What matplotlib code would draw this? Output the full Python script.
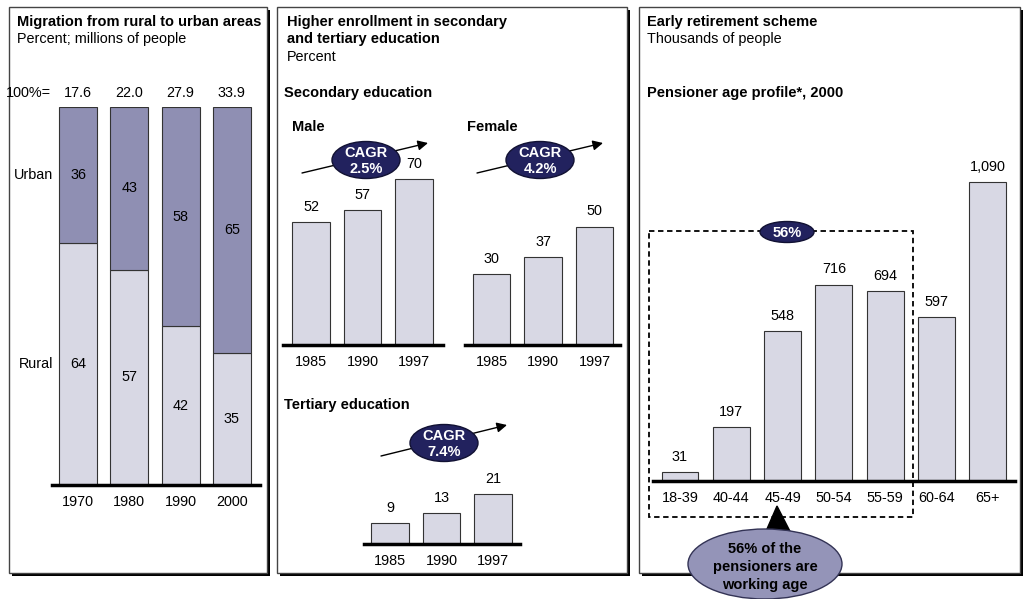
import numpy as np
import matplotlib.pyplot as plt
from matplotlib.patches import Rectangle, Ellipse, Polygon

plt.rcParams['font.family'] = ['Liberation Sans', 'DejaVu Sans']
plt.rcParams['font.size'] = 10.4

# datos
anios_mig = ['1970', '1980', '1990', '2000']
totales_mig = ['17.6', '22.0', '27.9', '33.9']
rural = [64, 57, 42, 35]
urbano = [36, 43, 58, 65]

anios_edu = ['1985', '1990', '1997']
sec_hombres = [52, 57, 70]
sec_mujeres = [30, 37, 50]
terciaria = [9, 13, 21]

edades = ['18-39', '40-44', '45-49', '50-54', '55-59', '60-64', '65+']
pensionistas = [31, 197, 548, 716, 694, 597, 1090]
etiquetas_pens = ['31', '197', '548', '716', '694', '597', '1,090']

c_claro = '#d8d8e4'
c_urbano = '#8f8fb3'
c_navy = '#22225e'
c_borde = '#444444'
fs_negrita = 10.5

W, H = 1023, 599
fig = plt.figure(figsize=(W / 100, H / 100), dpi=100)

# capa de fondo en pixeles
fondo = fig.add_axes([0, 0, 1, 1], zorder=0)
fondo.set_xlim(0, W)
fondo.set_ylim(H, 0)
fondo.axis('off')

def panel(x0, x1, y0=7, y1=573):
    fondo.add_patch(Rectangle((x0 + 3, y0 + 3), x1 - x0, y1 - y0, facecolor='black', edgecolor='none'))
    fondo.add_patch(Rectangle((x0, y0), x1 - x0, y1 - y0, facecolor='white', edgecolor=c_borde, lw=1))

panel(9, 267)
panel(277, 627)
panel(639, 1020)

def txt(x, y, s, bold=False, **kw):
    if bold:
        fondo.text(x, y, s, fontweight='bold', fontsize=fs_negrita, va='center', **kw)
    else:
        fondo.text(x, y, s, va='center', **kw)

txt(17, 22, 'Migration from rural to urban areas', True)
txt(17, 39, 'Percent; millions of people')
txt(287, 22, 'Higher enrollment in secondary', True)
txt(287, 39, 'and tertiary education', True)
txt(287, 57, 'Percent')
txt(284, 93, 'Secondary education', True)
txt(292, 127, 'Male', True)
txt(467, 127, 'Female', True)
txt(284, 405, 'Tertiary education', True)
txt(647, 22, 'Early retirement scheme', True)
txt(647, 39, 'Thousands of people')
txt(647, 93, 'Pensioner age profile*, 2000', True)

def ejes(x0, x1, ytop, ybase):
    ax = fig.add_axes([x0 / W, 1 - ybase / H, (x1 - x0) / W, (ybase - ytop) / H], zorder=2)
    ax.patch.set_alpha(0)
    for s in ['top', 'right', 'left']:
        ax.spines[s].set_visible(False)
    ax.spines['bottom'].set_linewidth(2.5)
    ax.spines['bottom'].set_zorder(5)
    ax.set_yticks([])
    ax.tick_params(axis='x', length=0, pad=7.5)
    return ax

# panel 1: migracion
ax1 = ejes(52, 260, 107, 485)
x = np.arange(len(anios_mig))
ax1.bar(x, rural, width=0.74, color=c_claro, edgecolor='#333333', lw=0.8)
ax1.bar(x, urbano, bottom=rural, width=0.74, color=c_urbano, edgecolor='#333333', lw=0.8)
ax1.set_xlim(-0.507, 3.548)
ax1.set_ylim(0, 100)
ax1.set_xticks(x, anios_mig)
for i in range(len(x)):
    ax1.text(x[i], rural[i] / 2, str(rural[i]), ha='center', va='center')
    ax1.text(x[i], rural[i] + urbano[i] / 2, str(urbano[i]), ha='center', va='center')
    ax1.annotate(totales_mig[i], (x[i], 100), xytext=(0, 10), textcoords='offset points',
                 ha='center', va='center', annotation_clip=False)
ax1.annotate('100%=', (-0.53, 100), xytext=(0, 10), textcoords='offset points', ha='right',
             va='center', annotation_clip=False)
ax1.text(-0.49, rural[0] + urbano[0] / 2, 'Urban', ha='right', va='center')
ax1.text(-0.49, rural[0] / 2, 'Rural', ha='right', va='center')

# panel 2: educacion
def barras_edu(ax, vals, xl, xr, ymax):
    xx = np.arange(len(vals))
    ax.bar(xx, vals, width=0.72, color=c_claro, edgecolor='#333333', lw=0.8)
    ax.set_xlim(xl, xr)
    ax.set_ylim(0, ymax)
    ax.set_xticks(xx, anios_edu)
    for i, v in enumerate(vals):
        ax.annotate(str(v), (xx[i], v), xytext=(0, 8), textcoords='offset points',
                    ha='center', va='baseline', annotation_clip=False)

esc = 2.37
ax2 = ejes(283, 443, 345 - esc * 75, 345)
barras_edu(ax2, sec_hombres, -0.544, 2.563, 75)
ax3 = ejes(465, 620, 345 - esc * 75, 345)
barras_edu(ax3, sec_mujeres, -0.515, 2.495, 75)
ax4 = ejes(364, 520, 544 - esc * 25, 544)
barras_edu(ax4, terciaria, -0.505, 2.524, 25)

# panel 3: pensionistas
ax5 = ejes(653, 1015, 481 - 0.2743 * 1200, 481)
xp = np.arange(len(edades))
ax5.bar(xp, pensionistas, width=0.72, color=c_claro, edgecolor='#333333', lw=0.8)
ax5.set_xlim(-0.526, 6.53)
ax5.set_ylim(0, 1200)
ax5.set_xticks(xp, edades)
for i, v in enumerate(pensionistas):
    ax5.annotate(etiquetas_pens[i], (xp[i], v), xytext=(0, 8), textcoords='offset points',
                 ha='center', va='baseline', annotation_clip=False)

# capa superior: anotaciones
frente = fig.add_axes([0, 0, 1, 1], zorder=10)
frente.set_xlim(0, W)
frente.set_ylim(H, 0)
frente.axis('off')
frente.patch.set_alpha(0)

def cagr(cx, cy, p0, p1, s):
    frente.annotate('', xy=p1, xytext=p0,
                    arrowprops=dict(arrowstyle='-|>', color='black', lw=1, mutation_scale=15,
                                    shrinkA=0, shrinkB=0))
    frente.add_patch(Ellipse((cx, cy), 68, 37, facecolor=c_navy, edgecolor='#111133', lw=1, zorder=3))
    frente.text(cx, cy + 1, 'CAGR\n' + s, color='white', fontweight='bold', fontsize=fs_negrita,
                ha='center', va='center', linespacing=1.1, zorder=4)

cagr(366, 160, (302, 173), (428, 143), '2.5%')
cagr(540, 160, (477, 173), (603, 143), '4.2%')
cagr(444, 443, (381, 456), (507, 425), '7.4%')

# recuadro punteado y etiquetas
frente.add_patch(Rectangle((649, 231), 913 - 649, 517 - 231, fill=False, ls=(0, (3, 2)),
                           edgecolor='black', lw=1.3, zorder=2))
frente.add_patch(Ellipse((787, 232), 54, 21, facecolor=c_navy, edgecolor='#111133', lw=1, zorder=3))
frente.text(787, 233, '56%', color='white', fontweight='bold', fontsize=fs_negrita, ha='center',
            va='center', zorder=4)

frente.add_patch(Polygon([(777, 506), (760, 545), (797, 545)], closed=True, facecolor='black',
                         edgecolor='black', zorder=3))
frente.add_patch(Ellipse((765, 564), 154, 70, facecolor='#9494b8', edgecolor='#333355', lw=1, zorder=4))
frente.text(765, 567, '56% of the\npensioners are\nworking age', fontweight='bold', fontsize=fs_negrita,
            ha='center', va='center', linespacing=1.35, zorder=5)

fig.savefig('out.png', dpi=100)
